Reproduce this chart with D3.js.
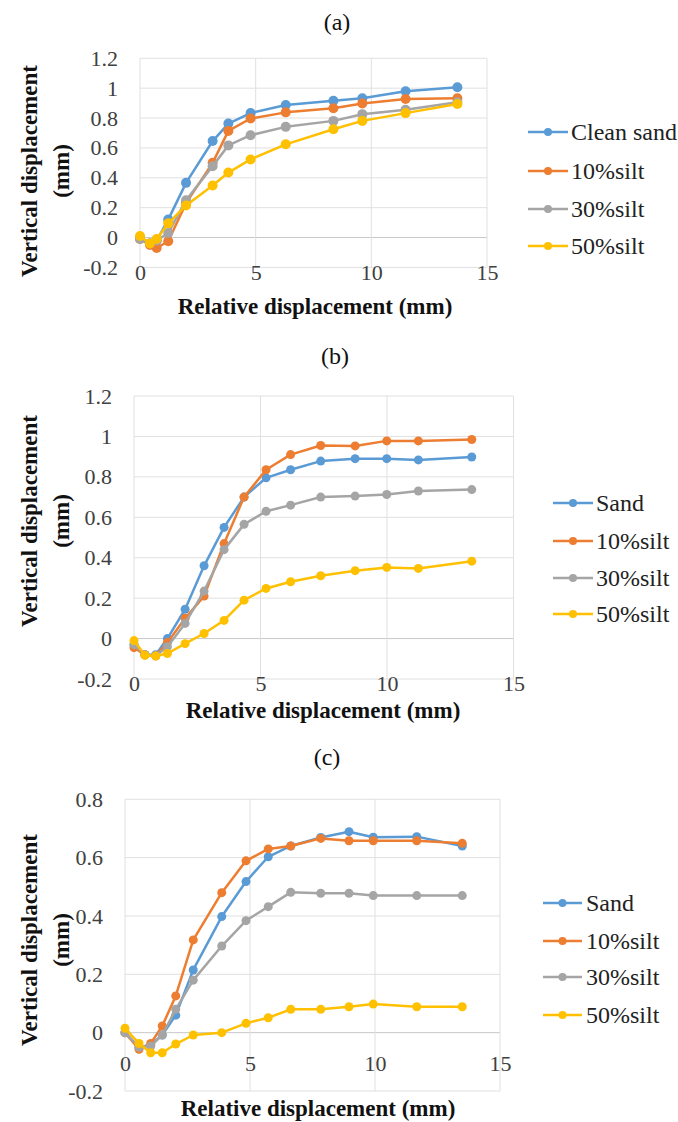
<!DOCTYPE html>
<html>
<head>
<meta charset="utf-8">
<script src="https://cdn.jsdelivr.net/npm/d3@7"></script>
<style>
  html, body { margin: 0; padding: 0; background: #fff; }
  svg { display: block; }
</style>
</head>
<body>
<svg id="chart" width="678" height="1122"></svg>
<script>
// ---------- DATA ----------
const xTickValues = [0, 5, 10, 15];
const yTicksAB = [-0.2, 0, 0.2, 0.4, 0.6, 0.8, 1, 1.2];
const yTicksC = [-0.2, 0, 0.2, 0.4, 0.6, 0.8];
const panelLabels = ["(a)", "(b)", "(c)"];
const xAxisTitle = "Relative displacement (mm)";
const yAxisTitle = ["Vertical displacement", "(mm)"];
const namesA = ["Clean sand", "10%silt", "30%silt", "50%silt"];
const namesBC = ["Sand", "10%silt", "30%silt", "50%silt"];

// Panel (a)
const xA = [0, 0.43, 0.72, 1.22, 1.99, 3.14, 3.82, 4.78, 6.30, 8.36, 9.61, 11.48, 13.72];
const aSand   = [0, -0.04, -0.02, 0.12, 0.366, 0.646, 0.763, 0.833, 0.887, 0.916, 0.932, 0.979, 1.006];
const aSilt10 = [-0.01, -0.05, -0.07, -0.025, 0.23, 0.50, 0.714, 0.797, 0.838, 0.865, 0.898, 0.927, 0.932];
const aSilt30 = [-0.01, -0.04, -0.02, 0.03, 0.25, 0.478, 0.617, 0.685, 0.741, 0.781, 0.826, 0.855, 0.905];
const aSilt50 = [0.01, -0.04, -0.01, 0.095, 0.215, 0.348, 0.435, 0.523, 0.624, 0.725, 0.781, 0.833, 0.894];

// Panel (b)
const xB = [0, 0.43, 0.86, 1.32, 2.02, 2.77, 3.56, 4.35, 5.22, 6.19, 7.38, 8.74, 9.99, 11.24, 13.35];
const bSand   = [-0.03, -0.08, -0.08, 0.0, 0.145, 0.36, 0.55, 0.70, 0.795, 0.835, 0.878, 0.89, 0.89, 0.884, 0.898];
const bSilt10 = [-0.045, -0.08, -0.085, -0.02, 0.10, 0.21, 0.47, 0.70, 0.835, 0.91, 0.955, 0.953, 0.978, 0.978, 0.985];
const bSilt30 = [-0.03, -0.08, -0.085, -0.04, 0.075, 0.235, 0.44, 0.565, 0.63, 0.66, 0.70, 0.705, 0.713, 0.73, 0.737];
const bSilt50 = [-0.01, -0.083, -0.086, -0.074, -0.025, 0.025, 0.09, 0.19, 0.248, 0.281, 0.311, 0.336, 0.352, 0.347, 0.383];

// Panel (c)
const xC = [0, 0.56, 1.03, 1.49, 2.03, 2.73, 3.87, 4.84, 5.73, 6.63, 7.83, 8.96, 9.93, 11.67, 13.49];
const cSand   = [0, -0.05, -0.042, -0.008, 0.06, 0.215, 0.398, 0.518, 0.603, 0.64, 0.669, 0.689, 0.67, 0.672, 0.64];
const cSilt10 = [0, -0.057, -0.037, 0.023, 0.126, 0.318, 0.48, 0.589, 0.63, 0.64, 0.666, 0.658, 0.658, 0.658, 0.649];
const cSilt30 = [0, -0.05, -0.046, -0.008, 0.08, 0.18, 0.297, 0.384, 0.432, 0.481, 0.478, 0.478, 0.47, 0.47, 0.47];
const cSilt50 = [0.015, -0.037, -0.069, -0.069, -0.039, -0.008, 0, 0.032, 0.051, 0.08, 0.08, 0.089, 0.098, 0.089, 0.089];

const colors = ["#5B9BD5", "#ED7D31", "#A5A5A5", "#FFC000"];
const FONT = "Liberation Serif";

// ---------- LAYOUT ----------
const panels = [
  { label: panelLabels[0], labelPos: [337, 22], x: xA, series: [aSand, aSilt10, aSilt30, aSilt50], names: namesA,
    yTicks: yTicksAB, yDomain: [-0.2, 1.2], left: 140, right: 487, top: 58.3, bottom: 267.4,
    xLabelY: 275, xTitlePos: [315, 306], yTitleY: 171, r: 5,
    legend: { lineX0: 528, lineX1: 568, textX: 571, ys: [132, 171, 209, 246] } },
  { label: panelLabels[1], labelPos: [335, 356], x: xB, series: [bSand, bSilt10, bSilt30, bSilt50], names: namesBC,
    yTicks: yTicksAB, yDomain: [-0.2, 1.2], left: 134, right: 513.5, top: 396, bottom: 679,
    xLabelY: 686, xTitlePos: [323, 710], yTitleY: 521, r: 4.5,
    legend: { lineX0: 553, lineX1: 593, textX: 596, ys: [503, 541, 578, 614] } },
  { label: panelLabels[2], labelPos: [327, 757], x: xC, series: [cSand, cSilt10, cSilt30, cSilt50], names: namesBC,
    yTicks: yTicksC, yDomain: [-0.2, 0.8], left: 125, right: 500, top: 799.3, bottom: 1091,
    xLabelY: 1066, xTitlePos: [318, 1108], yTitleY: 940, r: 4.5,
    legend: { lineX0: 543, lineX1: 582, textX: 586, ys: [903, 941, 977, 1015] } }
];

const svg = d3.select("#chart");
const fmt = d => String(+(+d).toFixed(2));

panels.forEach(p => {
  const g = svg.append("g");
  const x = d3.scaleLinear().domain([0, 15]).range([p.left, p.right]);
  const y = d3.scaleLinear().domain(p.yDomain).range([p.bottom, p.top]);

  // panel label
  g.append("text").attr("x", p.labelPos[0]).attr("y", p.labelPos[1])
    .attr("text-anchor", "middle").attr("dominant-baseline", "central")
    .style("font-family", FONT).attr("font-size", 24).attr("fill", "#111").text(p.label);

  // grid lines
  g.append("g").selectAll("line").data(p.yTicks).join("line")
    .attr("x1", p.left).attr("x2", p.right)
    .attr("y1", d => y(d)).attr("y2", d => y(d))
    .attr("stroke", d => d === 0 ? "#c8c8c8" : "#e0e0e0").attr("stroke-width", 1);
  g.append("g").selectAll("line").data(xTickValues).join("line")
    .attr("x1", d => x(d)).attr("x2", d => x(d))
    .attr("y1", p.top).attr("y2", p.bottom)
    .attr("stroke", "#e0e0e0").attr("stroke-width", 1);

  // y axis labels
  const yAxis = d3.axisLeft(y).tickValues(p.yTicks).tickSize(0).tickPadding(0).tickFormat(fmt);
  const yAx = g.append("g").attr("transform", `translate(${p.left - 22},0)`).call(yAxis);
  yAx.select(".domain").remove();
  yAx.selectAll("text").style("font-family", FONT).attr("font-size", 22).attr("fill", "#404040");

  // x axis labels
  const xAxis = d3.axisBottom(x).tickValues(xTickValues).tickSize(0).tickPadding(0).tickFormat(fmt);
  const xAx = g.append("g").attr("transform", `translate(0,${p.xLabelY - 11})`).call(xAxis);
  xAx.select(".domain").remove();
  xAx.selectAll("text").style("font-family", FONT).attr("font-size", 22).attr("fill", "#404040").attr("dy", "0.71em");

  // axis titles
  g.append("text").attr("x", p.xTitlePos[0]).attr("y", p.xTitlePos[1])
    .attr("text-anchor", "middle").attr("dominant-baseline", "central")
    .style("font-family", FONT).attr("font-size", 23).attr("font-weight", "bold").attr("fill", "#111").text(xAxisTitle);
  g.append("text").attr("transform", `translate(29,${p.yTitleY}) rotate(-90)`)
    .attr("text-anchor", "middle").attr("dominant-baseline", "central")
    .style("font-family", FONT).attr("font-size", 23).attr("font-weight", "bold").attr("fill", "#111").text(yAxisTitle[0]);
  g.append("text").attr("transform", `translate(61,${p.yTitleY}) rotate(-90)`)
    .attr("text-anchor", "middle").attr("dominant-baseline", "central")
    .style("font-family", FONT).attr("font-size", 23).attr("font-weight", "bold").attr("fill", "#111").text(yAxisTitle[1]);

  // series
  const line = d3.line().x((d, i) => x(p.x[i])).y(d => y(d));
  p.series.forEach((s, k) => {
    g.append("path").datum(s).attr("d", line)
      .attr("fill", "none").attr("stroke", colors[k]).attr("stroke-width", 2.5)
      .attr("stroke-linejoin", "round");
    g.append("g").selectAll("circle").data(s).join("circle")
      .attr("cx", (d, i) => x(p.x[i])).attr("cy", d => y(d)).attr("r", p.r)
      .attr("fill", colors[k]);
  });

  // legend
  const L = p.legend;
  p.names.forEach((n, k) => {
    const ly = L.ys[k];
    g.append("line").attr("x1", L.lineX0).attr("x2", L.lineX1).attr("y1", ly).attr("y2", ly)
      .attr("stroke", colors[k]).attr("stroke-width", 2.5);
    g.append("circle").attr("cx", (L.lineX0 + L.lineX1) / 2).attr("cy", ly).attr("r", 4).attr("fill", colors[k]);
    g.append("text").attr("x", L.textX).attr("y", ly).attr("dominant-baseline", "central")
      .style("font-family", FONT).attr("font-size", 24).attr("fill", "#222").text(n);
  });
});
</script>
</body>
</html>
